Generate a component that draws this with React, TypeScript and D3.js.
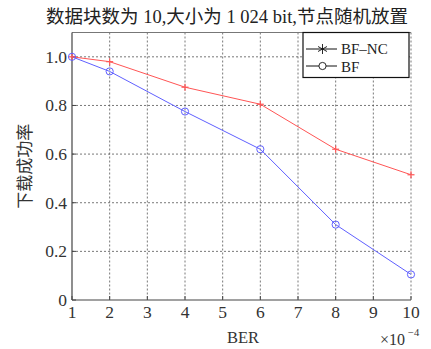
import React from 'react';
import * as d3 from 'd3';

const berValues = [1, 2, 4, 6, 8, 10];
const bfncValues = [1.0, 0.98, 0.875, 0.805, 0.62, 0.515];
const bfValues = [1.0, 0.94, 0.775, 0.62, 0.31, 0.105];
const xTicks = [1, 2, 3, 4, 5, 6, 7, 8, 9, 10];
const yTicks = [0, 0.2, 0.4, 0.6, 0.8, 1.0];
const yTickLabels = ['0', '0.2', '0.4', '0.6', '0.8', '1.0'];

const W = 431;
const H = 349;
const serif = { fontFamily: "'Liberation Serif', 'DejaVu Serif', serif" };
const cjk = { fontFamily: "'Liberation Serif', 'Noto Sans CJK SC', serif" };

export default function App() {
  const x = d3.scaleLinear().domain([1, 10]).range([72, 411]);
  const y = d3.scaleLinear().domain([0, 1.1]).range([300, 32.5]);

  const line = d3.line<number>()
    .x((_, i) => x(berValues[i]))
    .y(d => y(d));

  const red = '#ff5555';
  const blue = '#6060ff';
  const grid = '#555';

  const plus = (cx: number, cy: number, c: string, k: string) => (
    <g key={k} stroke={c} strokeWidth={1.2}>
      <line x1={cx - 3.5} x2={cx + 3.5} y1={cy} y2={cy} />
      <line x1={cx} x2={cx} y1={cy - 3.5} y2={cy + 3.5} />
    </g>
  );

  return (
    <svg width={W} height={H} style={{ position: 'absolute', left: 0, top: 0 }}>
      <rect width={W} height={H} fill="#fff" />
      <text x={227} y={23} textAnchor="middle" fontSize={18.5} style={cjk} fill="#222">
        数据块数为 10,大小为 1 024 bit,节点随机放置
      </text>

      {/* grid */}
      {xTicks.slice(1).map(t => (
        <line key={'gx' + t} x1={x(t)} x2={x(t)} y1={y(1.1)} y2={y(0)}
          stroke={grid} strokeWidth={0.8} strokeDasharray="2,2" />
      ))}
      {yTicks.slice(1).map(t => (
        <line key={'gy' + t} x1={x(1)} x2={x(10)} y1={y(t)} y2={y(t)}
          stroke={grid} strokeWidth={0.8} strokeDasharray="2,2" />
      ))}

      {/* axes */}
      <line x1={x(1)} x2={x(10)} y1={y(1.1)} y2={y(1.1)} stroke="#777" strokeWidth={1} />
      <line x1={x(1)} x2={x(1)} y1={y(1.1)} y2={y(0)} stroke="#444" strokeWidth={1.2} />
      <line x1={x(1)} x2={x(10)} y1={y(0)} y2={y(0)} stroke="#444" strokeWidth={1.2} />
      {yTicks.map(t => (
        <line key={'ty' + t} x1={x(1)} x2={x(1) + 4} y1={y(t)} y2={y(t)} stroke="#444" />
      ))}
      {xTicks.map(t => (
        <line key={'tx' + t} x1={x(t)} x2={x(t)} y1={y(0)} y2={y(0) - 4} stroke="#444" />
      ))}

      {yTicks.map((t, i) => (
        <text key={'ly' + t} x={67} y={y(t) + 6} textAnchor="end" fontSize={17.5}
          style={serif} fill="#333">{yTickLabels[i]}</text>
      ))}
      {xTicks.map(t => (
        <text key={'lx' + t} x={x(t)} y={318} textAnchor="middle" fontSize={17.5}
          style={serif} fill="#333">{t}</text>
      ))}
      <text x={243} y={343} textAnchor="middle" fontSize={16.5} style={serif} fill="#333">BER</text>
      <text x={380} y={345} fontSize={16} style={serif} fill="#333">×10</text>
      <text x={408} y={336} fontSize={10.5} style={serif} fill="#333">−4</text>
      <text transform={`translate(31,${y(0.55)}) rotate(-90)`} textAnchor="middle" fontSize={17}
        style={cjk} fill="#333">下载成功率</text>

      {/* series */}
      <path d={line(bfncValues) || ''} fill="none" stroke={red} strokeWidth={1} />
      <path d={line(bfValues) || ''} fill="none" stroke={blue} strokeWidth={1} />
      {bfncValues.map((v, i) => plus(x(berValues[i]), y(v), red, 'p' + i))}
      {bfValues.map((v, i) => (
        <circle key={'c' + i} cx={x(berValues[i])} cy={y(v)} r={3.6} fill="none"
          stroke={blue} strokeWidth={1} />
      ))}

      {/* legend */}
      <rect x={303} y={32.5} width={106} height={45} fill="#fff" stroke="#111" strokeWidth={1.2} />
      <line x1={306} x2={337} y1={49} y2={49} stroke="#111" />
      <g stroke="#111" strokeWidth={0.9}>
        <line x1={322.5} x2={322.5} y1={44} y2={54} />
        <line x1={318} x2={327} y1={46.5} y2={51.5} />
        <line x1={318} x2={327} y1={51.5} y2={46.5} />
      </g>
      <line x1={306} x2={337} y1={66} y2={66} stroke="#111" />
      <circle cx={322.5} cy={66} r={3.6} fill="#fff" stroke="#111" strokeWidth={0.9} />
      <text x={341} y={54} fontSize={15} style={serif} fill="#222">BF–NC</text>
      <text x={341} y={71.5} fontSize={15} style={serif} fill="#222">BF</text>
    </svg>
  );
}
